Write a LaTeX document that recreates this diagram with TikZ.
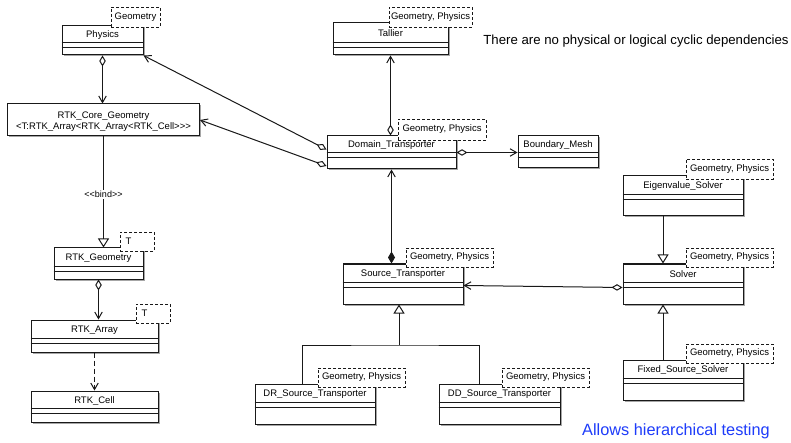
\documentclass[tikz,border=0pt]{standalone}
\usepackage{fontspec}
\setmainfont{Liberation Sans}
\usetikzlibrary{arrows.meta,calc,shadows}

\definecolor{linecol}{RGB}{25,25,25}
\definecolor{noteblue}{RGB}{30,60,250}

\tikzset{
  classbox/.style={draw=linecol, line width=1pt, fill=white, inner sep=0pt,
    drop shadow={shadow xshift=1.5pt, shadow yshift=-1.5pt, fill=black, opacity=0.35}},
  classname/.style={font=\fontsize{9.5}{11}\selectfont, inner sep=0pt, text=black},
  tplbox/.style={draw=linecol, dash pattern=on 3pt off 2pt, line width=0.85pt, fill=white,
    font=\fontsize{9.5}{11}\selectfont, inner sep=0pt},
  link/.style={draw=linecol, line width=1pt},
  aggr/.style={link, {Diamond[open, length=11pt, width=6.5pt]}-{Straight Barb[length=6.5pt, width=7.5pt]}},
  compo/.style={link, {Diamond[length=12pt, width=7pt]}-{Straight Barb[length=6.5pt, width=7.5pt]}},
  inherit/.style={link, -{Triangle[open, length=9pt, width=11pt]}},
  depend/.style={link, dash pattern=on 5pt off 3pt, -{Straight Barb[length=6.5pt, width=7.5pt]}},
  note/.style={inner sep=0pt},
}

% class with name row, empty attribute row and empty operation row
% #1 name, #2 left, #3 top, #4 right, #5 bottom, #6 title, #7 title row height
\newcommand\umlclass[7]{%
  \node[classbox, minimum width={(#4-#2)*1pt}, minimum height={(#5-#3)*1pt}]
    (#1) at ({(#2+#4)/2},{(#3+#5)/2}) {};
  \node[classname] (#1-name) at ({(#2+#4)/2},{#3+#7/2+0.5}) {#6};
  \draw[draw=linecol, line width=1pt]
    ($(#1.north west)+(0,#7)$) -- ($(#1.north east)+(0,#7)$)
    ($(#1.north west)+(0,#7+5)$) -- ($(#1.north east)+(0,#7+5)$);
}
% dashed template parameter box
\newcommand\umltpl[6]{%
  \node[tplbox, minimum width={(#4-#2)*1pt}, minimum height={(#5-#3)*1pt}]
    (#1) at ({(#2+#4)/2},{(#3+#5)/2}) {#6};
}

\begin{document}
\begin{tikzpicture}[x=1pt, y=-1pt]
\useasboundingbox[fill=white] (0,0) rectangle (791,443);

% classes
\umlclass{phys}{62}{26}{143}{55}{Physics}{17}
\umlclass{tal}{333}{23}{448}{55}{Tallier}{20}
\umlclass{dom}{327}{136}{456}{169}{Domain\_Transporter}{17}
\umlclass{bm}{518}{136}{598}{168}{Boundary\_Mesh}{17}
\umlclass{geo}{54}{248}{143}{279}{RTK\_Geometry}{19}
\umlclass{arr}{31}{320}{158}{352}{RTK\_Array}{19}
\umlclass{cell}{31}{391}{158}{422}{RTK\_Cell}{18}
\umlclass{st}{343}{264}{463}{304}{Source\_Transporter}{19}
\umlclass{dr}{255}{384}{375}{424}{DR\_Source\_Transporter}{19}
\umlclass{dd}{439}{384}{560}{424}{DD\_Source\_Transporter}{19}
\umlclass{eig}{623}{176}{743}{216}{Eigenvalue\_Solver}{19}
\umlclass{sol}{623}{264}{743}{304}{Solver}{19}
\umlclass{fss}{623}{360}{743}{400}{Fixed\_Source\_Solver}{19}

% bound template class
\node[classbox, minimum width=192pt, minimum height=32pt] (core) at (103.5,120) {};
\node[classname, align=center] (core-name) at (103.5,121.5)
  {RTK\_Core\_Geometry\\<T:RTK\_Array<RTK\_Array<RTK\_Cell>{}>{}>};

% template parameters
\umltpl{phys-tpl}{111}{7}{160}{27}{Geometry}
\umltpl{tal-tpl}{389}{7}{472}{27}{Geometry, Physics}
\umltpl{dom-tpl}{398}{119}{486}{140}{Geometry, Physics}
\umltpl{geo-tpl}{120}{232}{154}{251}{T\rule{17pt}{0pt}}
\umltpl{arr-tpl}{136}{304}{170}{323}{T\rule{17pt}{0pt}}
\umltpl{st-tpl}{406}{248}{493}{267}{Geometry, Physics}
\umltpl{dr-tpl}{318}{368}{405}{387}{Geometry, Physics}
\umltpl{dd-tpl}{502}{368}{589}{387}{Geometry, Physics}
\umltpl{eig-tpl}{686}{159}{773}{179}{Geometry, Physics}
\umltpl{sol-tpl}{686}{248}{773}{267}{Geometry, Physics}
\umltpl{fss-tpl}{686}{344}{773}{363}{Geometry, Physics}

% connectors
\draw[aggr] (phys.south) -- (phys.south |- core.north);
\draw[inherit] (core.south) -- node[fill=white, inner sep=1pt, font=\fontsize{9}{10}\selectfont, pos=0.52] (bind) {<{}<bind>{}>} (core.south |- geo.north);
\draw[aggr] (geo.south) -- (geo.south |- arr.north);
\draw[depend] (arr.south) -- (cell.north);

\draw[aggr] (dom.north -| tal.south) -- (tal.south);
\draw[aggr] (dom.east) -- (dom.east -| bm.west);
\draw[aggr] ($(dom.west)+(0,-3)$) -- (phys.south east);
\draw[aggr] ($(dom.south west)+(0,-3.5)$) -- (core.east);
\draw[compo] (dom.south |- st.north) -- (dom.south);

\coordinate (inh) at ($(st.south west)+(56.5,40.5)$);
\draw[inherit] (inh) -- (inh |- st.south);
\draw[link] ($(dr.north west)+(47.5,0)$) |- (inh) -| ($(dd.north west)+(40.5,0)$);

\draw[inherit] ($(eig.south west)+(40.5,0)$) -- ($(sol.north west)+(40.5,0)$);
\draw[inherit] ($(fss.north west)+(40.5,0)$) -- ($(sol.south west)+(40.5,0)$);
\draw[aggr] ($(sol.west)+(0,3.5)$) -- ($(st.east)+(0,1.5)$);

% notes
\node[note, font=\fontsize{13.2}{15}\selectfont] (cyc) at (636,41)
  {There are no physical or logical cyclic dependencies};
\node[note, font=\fontsize{16.3}{18}\selectfont, text=noteblue] (hier) at (676,431)
  {Allows hierarchical testing};
\end{tikzpicture}
\end{document}
